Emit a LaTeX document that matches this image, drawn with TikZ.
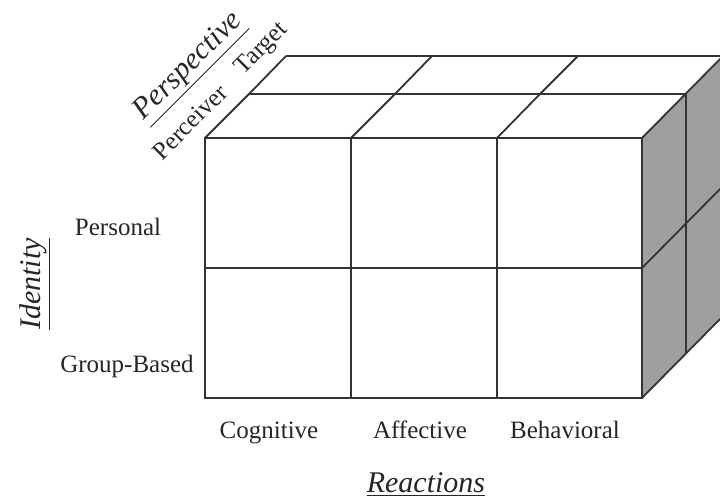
\documentclass[tikz,border=0pt]{standalone}
\usepackage{fontspec}
\setmainfont{Liberation Serif}
\begin{document}
\begin{tikzpicture}[x=0.5pt,y=-0.5pt,
  edge/.style={draw=black!80, line width=0.9pt, line join=miter},
  lbl/.style={font=\fontsize{12.5}{15}\selectfont, text=black!85, inner sep=0pt},
  axislbl/.style={font=\fontsize{15}{18}\selectfont\itshape, text=black!85, inner sep=0pt}]
\useasboundingbox (0,0) rectangle (720,500);
\fill[white] (0,0) rectangle (720,500);

% ---- right (shaded) face, clipped at the picture edge
\begin{scope}
  \clip (0,0) rectangle (720,500);
  \fill[gray!75] (642,138) -- (723,56) -- (723,316) -- (642,398) -- cycle;
  \draw[edge] (642,138) -- (723,56);
  \draw[edge] (642,268) -- (723,186);
  \draw[edge] (642,398) -- (723,316);
  \draw[edge] (686,94) -- (686,354);
  \draw[edge] (723,56) -- (723,316);
\end{scope}

% ---- top face
\draw[edge] (249,94) -- (686,94);
\draw[edge] (286,56) -- (720,56);
\draw[edge] (205,138) -- (249,94) -- (286,56);
\draw[edge] (351,138) -- (395,94) -- (432,56);
\draw[edge] (497,138) -- (540,94) -- (578,56);

% ---- front face
\draw[edge, fill=white] (205,138) rectangle (642,398);
\draw[edge] (351,138) -- (351,398);
\draw[edge] (497,138) -- (497,398);
\draw[edge] (205,268) -- (642,268);

% ---- labels
\node[lbl, anchor=base] (personal) at (118,235) {Personal};
\node[lbl, anchor=base] (group) at (127,372) {Group-Based};
\node[lbl, anchor=base] (cog) at (269,438) {Cognitive};
\node[lbl, anchor=base] (aff) at (420,438) {Affective};
\node[lbl, anchor=base] (beh) at (565,438) {Behavioral};
\node[axislbl, anchor=base] (react) at (426,492) {\underline{Reactions}};
\node[axislbl, rotate=90, anchor=base] (ident) at (40,284) {\underline{Identity}};
\node[axislbl, rotate=45] (persp) at (190,68) {\underline{Perspective}};
\node[lbl, rotate=45] (perc) at (190,122) {Perceiver};
\node[lbl, rotate=45] (targ) at (262,49) {Target};
\end{tikzpicture}
\end{document}
